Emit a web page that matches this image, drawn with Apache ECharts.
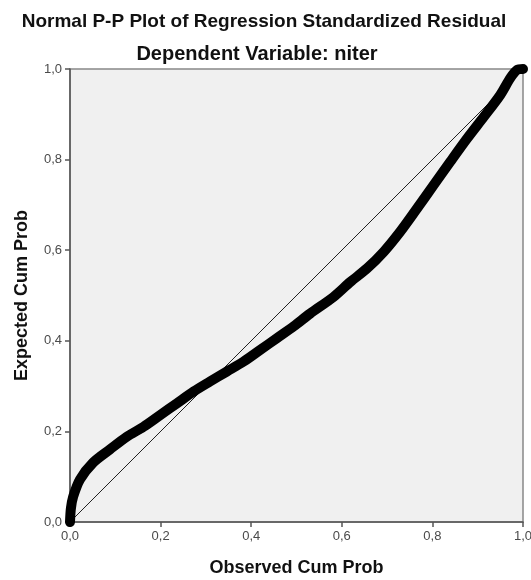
<!DOCTYPE html>
<html>
<head>
<meta charset="utf-8">
<script src="https://cdn.jsdelivr.net/npm/echarts@6/dist/echarts.min.js"></script>
<style>
  html, body { margin: 0; padding: 0; background: #fff; }
  #chart { width: 531px; height: 580px; }
</style>
</head>
<body>
<div id="chart"></div>
<script>
// Observed vs expected cumulative probability
const observed = [0, 0.002, 0.007, 0.022, 0.051, 0.088, 0.125, 0.162, 0.199, 0.236, 0.273, 0.309,
  0.346, 0.383, 0.42, 0.457, 0.494, 0.53, 0.582, 0.619, 0.656, 0.693, 0.729, 0.766, 0.803,
  0.84, 0.877, 0.914, 0.95, 0.972, 0.987, 1.0];
const expected = [0, 0.03, 0.056, 0.094, 0.131, 0.16, 0.188, 0.21, 0.236, 0.262, 0.288, 0.31,
  0.332, 0.354, 0.38, 0.406, 0.432, 0.46, 0.497, 0.53, 0.56, 0.597, 0.641, 0.692, 0.744,
  0.796, 0.847, 0.895, 0.943, 0.98, 0.998, 1.0];
const diagonal = [0, 1];
const ticks = [0, 0.2, 0.4, 0.6, 0.8, 1.0];

const fmt = v => v.toFixed(1).replace('.', ',');
const font = 'Liberation Sans, Arial, sans-serif';

const chart = echarts.init(document.getElementById('chart'));

const axisCommon = {
  type: 'value',
  min: 0,
  max: 1,
  interval: 0.2,
  nameLocation: 'middle',
  nameTextStyle: { fontFamily: font, fontWeight: 'bold', fontSize: 18, color: '#111' },
  axisLine: { show: true, lineStyle: { color: '#555', width: 1.5 } },
  axisTick: { show: true, inside: false, length: 5, lineStyle: { color: '#555', width: 1.5 } },
  axisLabel: {
    fontFamily: font, fontSize: 13, color: '#4a4a4a', margin: 8,
    formatter: v => ticks.indexOf(Math.round(v * 10) / 10) >= 0 ? fmt(v) : ''
  },
  splitLine: { show: false }
};

chart.setOption({
  animation: false,
  title: [
    {
      text: 'Normal P-P Plot of Regression Standardized Residual',
      left: 259, top: 7, textAlign: 'center',
      textStyle: { fontFamily: font, fontWeight: 'bold', fontSize: 19, color: '#111' }
    },
    {
      text: 'Dependent Variable: niter',
      left: 252, top: 39, textAlign: 'center',
      textStyle: { fontFamily: font, fontWeight: 'bold', fontSize: 20, color: '#111' }
    }
  ],
  grid: {
    left: 70, top: 69, width: 453, height: 453,
    outerBoundsMode: 'none',
    show: true, backgroundColor: '#f0f0f0', borderColor: '#888', borderWidth: 1.5
  },
  xAxis: Object.assign({}, axisCommon, { name: 'Observed Cum Prob', nameGap: 37 }),
  yAxis: Object.assign({}, axisCommon, { name: 'Expected Cum Prob', nameGap: 39 }),
  series: [
    {
      type: 'line',
      data: diagonal.map(v => [v, v]),
      symbol: 'none',
      lineStyle: { color: '#222', width: 1 },
      z: 2
    },
    {
      type: 'line',
      data: observed.map((x, i) => [x, expected[i]]),
      symbol: 'none',
      smooth: 0.3,
      lineStyle: { color: '#000', width: 10, cap: 'round', join: 'round' },
      z: 3
    }
  ]
});
</script>
</body>
</html>
